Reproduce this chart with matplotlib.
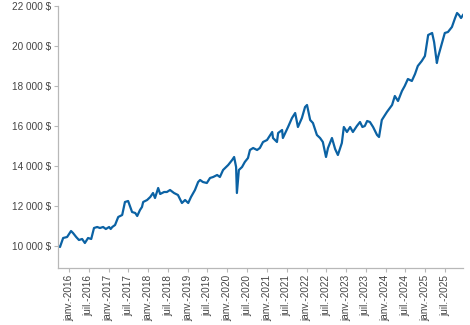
import datetime as dt
import matplotlib
matplotlib.use("Agg")
import matplotlib.pyplot as plt
import matplotlib.dates as mdates
from matplotlib.ticker import FuncFormatter

plt.rcParams["font.family"] = ["Liberation Sans", "DejaVu Sans"]

# Portfolio growth of 10 000 $, sampled at decimal-year dates
years = [
    2015.72, 2015.77, 2015.85, 2015.95, 2016.00, 2016.05, 2016.10, 2016.18, 2016.25,
    2016.33, 2016.40, 2016.48, 2016.56, 2016.63, 2016.71, 2016.78, 2016.86,
    2016.93, 2017.01, 2017.05, 2017.09, 2017.16, 2017.24, 2017.34, 2017.41, 2017.49,
    2017.59, 2017.67, 2017.72, 2017.79, 2017.84, 2017.87, 2017.97, 2018.05, 2018.12,
    2018.17, 2018.25, 2018.30, 2018.40, 2018.47, 2018.55, 2018.65, 2018.75,
    2018.85, 2018.93, 2019.01, 2019.08, 2019.18, 2019.26, 2019.31, 2019.38,
    2019.48, 2019.56, 2019.64, 2019.74, 2019.81, 2019.89, 2020.02, 2020.12,
    2020.17, 2020.22, 2020.24, 2020.29, 2020.37, 2020.44, 2020.52, 2020.57,
    2020.65, 2020.75, 2020.82, 2020.90, 2021.00, 2021.08, 2021.13, 2021.15,
    2021.25, 2021.28, 2021.38, 2021.40, 2021.53, 2021.63, 2021.71, 2021.78,
    2021.88, 2021.96, 2022.01, 2022.09, 2022.16, 2022.26, 2022.34, 2022.41,
    2022.49, 2022.54, 2022.64, 2022.72, 2022.79, 2022.89, 2022.94, 2023.02,
    2023.10, 2023.17, 2023.27, 2023.35, 2023.41, 2023.47, 2023.53, 2023.60, 2023.68, 2023.78,
    2023.83, 2023.90, 2024.03, 2024.16, 2024.23, 2024.31, 2024.41, 2024.48,
    2024.56, 2024.66, 2024.74, 2024.81, 2024.91, 2024.99, 2025.07, 2025.17,
    2025.22, 2025.29, 2025.32, 2025.42, 2025.49, 2025.57, 2025.67, 2025.75,
    2025.80, 2025.85, 2025.90, 2025.95,
]
values = [
    10000, 9950, 10400, 10450, 10600, 10750, 10650, 10450, 10300,
    10350, 10150, 10400, 10350, 10900, 10950, 10900, 10950,
    10850, 10950, 10850, 10950, 11050, 11450, 11550, 12200, 12250,
    11700, 11650, 11500, 11800, 11950, 12200, 12300, 12450, 12650,
    12400, 12900, 12600, 12700, 12700, 12800, 12650, 12550,
    12150, 12300, 12150, 12450, 12800, 13200, 13300, 13200,
    13150, 13400, 13450, 13550, 13450, 13800, 14050, 14300,
    14450, 13950, 12650, 13800, 13950, 14200, 14400, 14800,
    14900, 14800, 14900, 15200, 15300, 15550, 15700, 15400,
    15200, 15650, 15800, 15400, 15950, 16400, 16650, 15950,
    16400, 16950, 17050, 16300, 16150, 15550, 15400, 15200,
    14450, 14900, 15400, 14850, 14550, 15150, 15950, 15700,
    15950, 15700, 16000, 16200, 15950, 16000, 16250, 16200, 15950, 15550,
    15450, 16300, 16700, 17050, 17500, 17250, 17750, 18000,
    18350, 18250, 18600, 19000, 19250, 19500, 20550, 20650,
    20200, 19150, 19450, 20150, 20650, 20700, 20950, 21400,
    21650, 21550, 21400, 21550,
]
y_ticks = [10000, 12000, 14000, 16000, 18000, 20000, 22000]
month_names = {1: "janv.", 7: "juil."}

LINE_COLOR = "#0b62a4"
TEXT_COLOR = "#444444"
AXIS_COLOR = "#b8b8b8"


def to_date(y):
    start = dt.datetime(int(y), 1, 1)
    return start + dt.timedelta(days=(y - int(y)) * 365.25)


dates = [to_date(y) for y in years]

fig = plt.figure(figsize=(4.70, 3.25), dpi=100)
ax = fig.add_axes([58 / 470, 57 / 325, 405 / 470, 262 / 325])

ax.plot(dates, values, color=LINE_COLOR, linewidth=1.6, solid_joinstyle="round")

ax.set_xlim(dates[0], dates[-1])
ax.set_ylim(8900, 22000)
ax.set_yticks(y_ticks)
ax.yaxis.set_major_formatter(FuncFormatter(lambda v, p: f"{v:,.0f}".replace(",", " ") + " $"))

ax.xaxis.set_major_locator(mdates.MonthLocator(bymonth=[1, 7]))
ax.xaxis.set_major_formatter(FuncFormatter(
    lambda v, p: f"{month_names[mdates.num2date(v).month]}-{mdates.num2date(v).year}"))

for s in ["top", "right"]:
    ax.spines[s].set_visible(False)
for s in ["left", "bottom"]:
    ax.spines[s].set_color(AXIS_COLOR)
    ax.spines[s].set_linewidth(0.9)

ax.tick_params(axis="both", colors=AXIS_COLOR, labelcolor=TEXT_COLOR,
               labelsize=7.2, length=3, width=0.8, pad=2)
ax.tick_params(axis="x", labelrotation=90)

fig.savefig("out.png", dpi=100)
